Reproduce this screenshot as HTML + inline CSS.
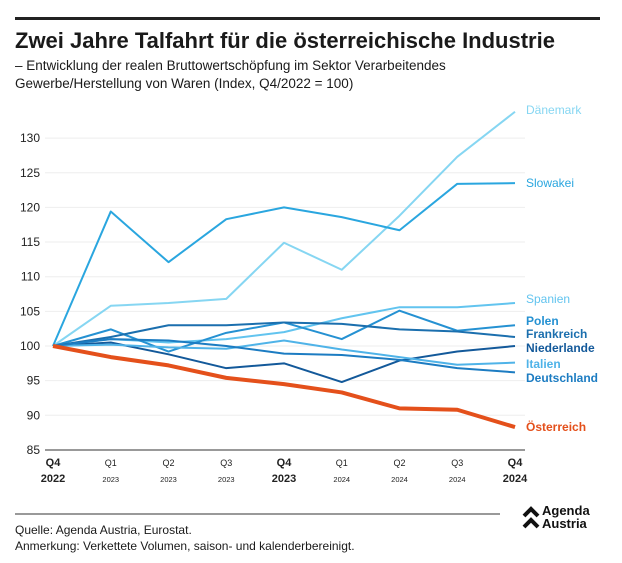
<!DOCTYPE html>
<html><head><meta charset="utf-8"><style>
body{margin:0;width:622px;height:563px;background:#fff;font-family:"Liberation Sans",sans-serif;overflow:hidden;position:relative}
.t{position:absolute;left:15px;color:#1a1a1a}
</style></head><body>
<div style="position:absolute;left:15px;top:17px;width:585px;height:3px;background:#222"></div>
<div class="t" style="top:28px;font-size:22px;font-weight:bold">Zwei Jahre Talfahrt für die österreichische Industrie</div>
<div class="t" style="top:57px;font-size:13.5px;line-height:18px;width:560px">– Entwicklung der realen Bruttowertschöpfung im Sektor Verarbeitendes Gewerbe/Herstellung von Waren (Index, Q4/2022 = 100)</div>
<svg id="c" width="622" height="563" style="position:absolute;left:0;top:0"></svg>
<div style="position:absolute;left:15px;top:513px;width:485px;height:2px;background:#999"></div>
<div class="t" style="top:522px;font-size:12px;line-height:16px">Quelle: Agenda Austria, Eurostat.<br>Anmerkung: Verkettete Volumen, saison- und kalenderbereinigt.</div>
<div style="position:absolute;left:522px;top:504px;font-size:13px;font-weight:bold;line-height:13px;color:#111">
<svg width="18" height="24" style="position:absolute;left:0;top:2px"><path d="M2 10 L9 3 L16 10 M2 21 L9 14 L16 21" stroke="#111" stroke-width="4" fill="none"/></svg>
<div style="margin-left:20px">Agenda<br>Austria</div></div>
<script>
const categories=["Q4|2022","Q1|2023","Q2|2023","Q3|2023","Q4|2023","Q1|2024","Q2|2024","Q3|2024","Q4|2024"];
const yTicks=[85,90,95,100,105,110,115,120,125,130];
const seriesNames=["Dänemark","Slowakei","Spanien","Polen","Frankreich","Niederlande","Italien","Deutschland","Österreich"];
const daenemark=[100,105.8,106.2,106.8,114.9,111,118.8,127.3,133.8];
const slowakei=[100,119.4,112.1,118.3,120,118.6,116.7,123.4,123.5];
const spanien=[100,101,100.5,101,102,104,105.6,105.6,106.2];
const polen=[100,102.4,99.2,101.9,103.4,101,105.1,102.2,103];
const frankreich=[100,101.3,103,103,103.4,103.2,102.4,102.1,101.3];
const niederlande=[100,100.5,98.8,96.8,97.5,94.8,97.9,99.2,100];
const italien=[100,100.2,99.8,99.6,100.8,99.5,98.4,97.3,97.6];
const deutschland=[100,101,100.8,100,98.9,98.7,98,96.8,96.2];
const oesterreich=[100,98.4,97.2,95.4,94.5,93.3,91,90.8,88.3];
const allSeries=[daenemark,slowakei,spanien,polen,frankreich,niederlande,italien,deutschland,oesterreich];
const colors=["#86d6f2","#2aa6df","#62c4ef","#2591d2","#1b6fae","#13599a","#4fb3e8","#1c7cc2","#e4501b"];
const labelY=[110,183,299,321,334,348,364,378,427];
const svg=document.getElementById('c');const NS="http://www.w3.org/2000/svg";
const x=i=>53+i*57.75;const y=v=>346-(v-100)*6.93;
function mk(t,a){const e=document.createElementNS(NS,t);for(const k in a)e.setAttribute(k,a[k]);svg.appendChild(e);return e;}
yTicks.forEach(v=>{
const l=mk('line',{x1:45,x2:525,y1:y(v),y2:y(v),stroke:v===85?'#999':'#eee','stroke-width':v===85?2:1});


const t=mk('text',{x:40,y:y(v)+4,'text-anchor':'end','font-size':12,fill:'#222'});t.textContent=v;


});
categories.forEach((c,i)=>{const [q,yr]=c.split('|');const big=(q==="Q4");
const t1=mk('text',{x:x(i),y:466,'text-anchor':'middle','font-size':big?11:9,'font-weight':big?'bold':'normal',fill:'#222'});t1.textContent=q;


const t2=mk('text',{x:x(i),y:482,'text-anchor':'middle','font-size':big?11:7.5,'font-weight':big?'bold':'normal',fill:'#222'});t2.textContent=yr;


});
allSeries.forEach((s,k)=>{
const p=mk('polyline',{points:s.map((v,i)=>x(i)+','+y(v)).join(' '),fill:'none',stroke:colors[k],'stroke-width':k===8?4:2,'stroke-linejoin':'round'});


const t=mk('text',{x:526,y:labelY[k]+4,'font-size':12,'font-weight':(k>=3)?'bold':'normal',fill:colors[k]});t.textContent=seriesNames[k];


});
</script>
</body></html>
